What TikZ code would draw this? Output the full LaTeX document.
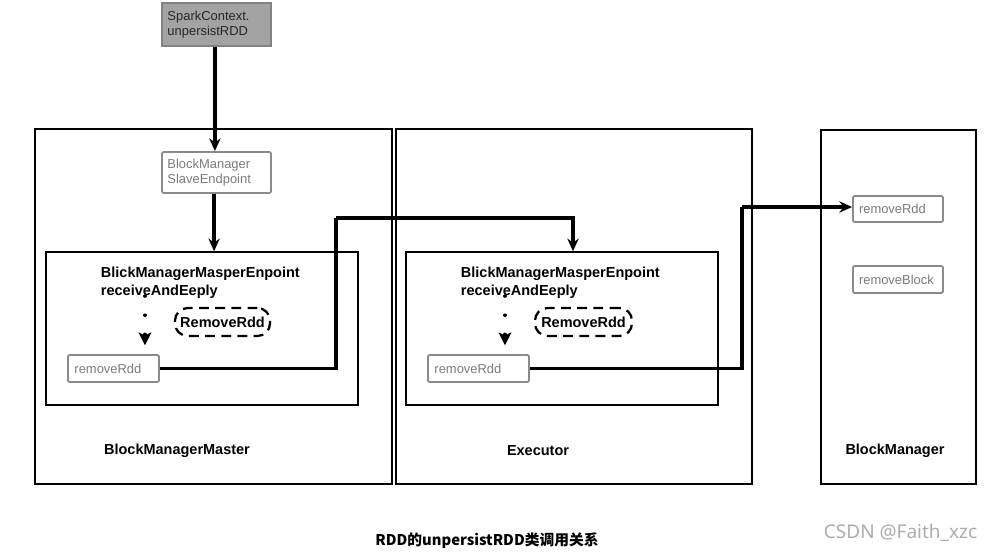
\documentclass[tikz,border=0pt]{standalone}
\usepackage{fontspec}
\setmainfont{Liberation Sans}
\newfontfamily\cjk{Noto Sans CJK SC}
\newfontfamily\marksans{Noto Sans}
\usepackage{tikz}
\usetikzlibrary{arrows.meta,positioning,calc}
\definecolor{callfill}{HTML}{A3A3A3}
\definecolor{methodline}{HTML}{8A8A90}
\definecolor{methodtext}{HTML}{7A7A80}

\begin{document}
\begin{tikzpicture}[x=0.025cm, y=-0.025cm,
  container/.style={draw, line width=1pt, inner sep=0pt},
  endpointbox/.style={draw, line width=1pt, inner sep=0pt},
  methodbox/.style={draw=methodline, line width=1.3pt, rounded corners=1pt, text=methodtext,
    font=\fontsize{9.2}{11}\selectfont, align=left, inner sep=0pt},
  msgbox/.style={draw, dash pattern=on 7pt off 4.5pt, line width=1.6pt, rounded corners=9pt, inner sep=0pt,
    font=\bfseries\fontsize{10.3}{12}\selectfont},
  boldlabel/.style={font=\bfseries\fontsize{10.3}{13}\selectfont, align=left},
  flow/.style={-{Stealth[length=9pt,width=8pt]}, line width=2.4pt},
  link/.style={line width=2.4pt},
  dotflow/.style={-{Stealth[length=9pt,width=9pt,inset=2pt]}, line width=2.4pt, dash pattern=on 0.1pt off 13.5pt, line cap=round}]
  \useasboundingbox (0,0) rectangle (992,553);

  % --- Caller ---
  \node[fill=callfill, draw=callfill!80!black, line width=0.8pt, minimum width=2.725cm, minimum height=1.075cm,
        text width=2.45cm, align=left, inner sep=0pt, text=black!85,
        font=\fontsize{9.2}{11}\selectfont] (spark) at (216.5,24.5) {SparkContext.\\unpersistRDD};

  % --- BlockManagerMaster ---
  \node[container, minimum width=8.925cm, minimum height=8.875cm] (master) at (213.5,306.5) {};
  \node[methodbox, minimum width=2.725cm, minimum height=1.025cm, text width=2.45cm] (slave) at (216.5,172.5) {BlockManager\\SlaveEndpoint};
  \node[endpointbox, minimum width=7.8cm, minimum height=3.825cm] (mep) at (202,328.5) {};
  \node[boldlabel, anchor=north west] (mtitle) at (96,262) {BlickManagerMasperEnpoint\\receiveAndEeply};
  \node[msgbox, minimum width=2.375cm, minimum height=0.7cm] (mmsg) at (222.5,322) {RemoveRdd};
  \node[methodbox, minimum width=2.275cm, minimum height=0.675cm, text width=1.95cm] (mrm) at (113.5,368.5) {removeRdd};
  \coordinate (mdot) at (145,296);
  \node[boldlabel] (mname) at (177,451) {BlockManagerMaster};

  % --- Executor ---
  \node[container, minimum width=8.9cm, minimum height=8.875cm] (exec) at (574,306.5) {};
  \node[endpointbox, minimum width=7.8cm, minimum height=3.825cm] (eep) at (562,328.5) {};
  \node[boldlabel, anchor=north west] (etitle) at (456,262) {BlickManagerMasperEnpoint\\receiveAndEeply};
  \node[msgbox, minimum width=2.425cm, minimum height=0.7cm] (emsg) at (583.5,322) {RemoveRdd};
  \node[methodbox, minimum width=2.525cm, minimum height=0.675cm, text width=2.2cm] (erm) at (478.5,368.5) {removeRdd};
  \coordinate (edot) at (505,296);
  \node[boldlabel] (ename) at (538,451) {Executor};

  % --- BlockManager ---
  \node[container, minimum width=3.875cm, minimum height=8.85cm] (bm) at (898.5,307) {};
  \node[methodbox, minimum width=2.25cm, minimum height=0.65cm, text width=1.95cm] (brm) at (898,209) {removeRdd};
  \node[methodbox, minimum width=2.25cm, minimum height=0.675cm, text width=1.95cm] (bblock) at (898,279.5) {removeBlock};
  \node[boldlabel] (bname) at (895,451) {BlockManager};

  % --- Calls ---
  \coordinate (hopa) at (336,218);
  \coordinate (hopb) at (742,207);
  \draw[flow] ([xshift=-0.04cm]spark.south) -- ([xshift=-0.04cm]slave.north);
  \draw[flow] ([xshift=-0.06cm]slave.south) -- ([xshift=-0.06cm]slave.south |- mep.north);
  \draw[dotflow] (mdot) -- ([yshift=0.22cm]mdot |- mrm.north);
  \draw[dotflow] (edot) -- ([yshift=0.22cm]edot |- erm.north);
  \draw[link] (mrm.east) -| (hopa);
  \draw[flow] (hopa) -| ([xshift=0.275cm]eep.north);
  \draw[link] (erm.east) -| (hopb);
  \draw[flow] (hopb) -- (hopb -| brm.west);

  % Caption and mark
  \node[font=\cjk\bfseries\fontsize{10.5}{12}\selectfont] (caption) at (487,541) {RDD的unpersistRDD类调用关系};
  \node[font=\marksans\fontsize{13.5}{15}\selectfont, text=gray!65, anchor=west] (mark) at (819,533) {CSDN @Faith\_xzc};
\end{tikzpicture}
\end{document}
